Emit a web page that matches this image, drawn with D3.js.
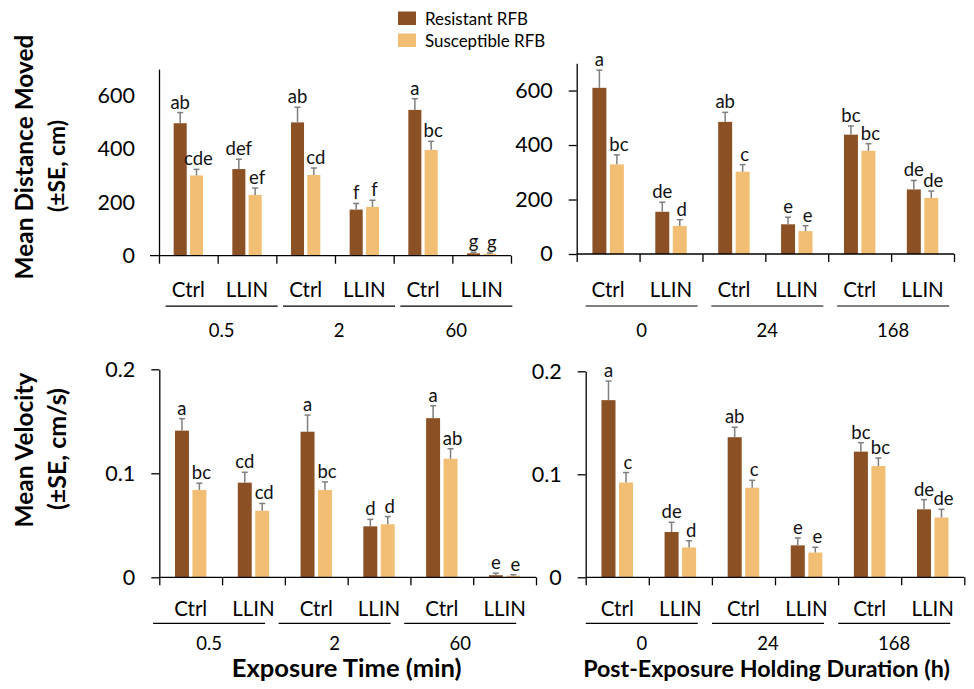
<!DOCTYPE html>
<html><head><meta charset="utf-8">
<script src="https://cdn.jsdelivr.net/npm/d3@7/dist/d3.min.js"></script>
<style>
body{margin:0;background:#fff;}
svg{display:block;font-family:Lato,"Open Sans",sans-serif;}
</style></head>
<body><svg id="c" width="974" height="689"></svg>
<script>
// ---------- data ----------
const seriesNames = ["Resistant RFB", "Susceptible RFB"];
const treatments = ["Ctrl", "LLIN"];
const exposureGroups = ["0.5", "2", "60"];
const holdingGroups = ["0", "24", "168"];
const distTicks = [0, 200, 400, 600];
const velTicks = [0, 0.1, 0.2];

// Mean distance moved, exposure time
const distExpRes = [497, 325, 500, 173, 547, 9];
const distExpResSE = [40, 37, 57, 23, 42, 4];
const distExpSus = [301, 228, 303, 183, 397, 7];
const distExpSusSE = [23, 26, 26, 25, 32, 3];
const distExpResLetters = ["ab", "def", "ab", "f", "a", "g"];
const distExpSusLetters = ["cde", "ef", "cd", "f", "bc", "g"];

// Mean distance moved, holding duration
const distHoldRes = [610, 155, 485, 109, 438, 237];
const distHoldResSE = [65, 35, 35, 26, 32, 33];
const distHoldSus = [329, 103, 302, 84, 379, 206];
const distHoldSusSE = [35, 23, 26, 20, 26, 25];
const distHoldResLetters = ["a", "de", "ab", "e", "bc", "de"];
const distHoldSusLetters = ["bc", "d", "c", "e", "bc", "de"];

// Mean velocity, exposure time
const velExpRes = [0.141, 0.091, 0.140, 0.049, 0.153, 0.002];
const velExpResSE = [0.0115, 0.010, 0.016, 0.0067, 0.012, 0.002];
const velExpSus = [0.084, 0.064, 0.084, 0.051, 0.114, 0.0015];
const velExpSusSE = [0.0065, 0.007, 0.0077, 0.0074, 0.0096, 0.001];
const velExpResLetters = ["a", "cd", "a", "d", "a", "e"];
const velExpSusLetters = ["bc", "cd", "bc", "d", "ab", "e"];

// Mean velocity, holding duration
const velHoldRes = [0.172, 0.044, 0.136, 0.031, 0.122, 0.066];
const velHoldResSE = [0.0185, 0.0094, 0.0097, 0.0072, 0.0087, 0.0094];
const velHoldSus = [0.092, 0.029, 0.087, 0.024, 0.108, 0.058];
const velHoldSusSE = [0.0097, 0.0065, 0.0072, 0.0052, 0.0078, 0.008];
const velHoldResLetters = ["a", "de", "ab", "e", "bc", "de"];
const velHoldSusLetters = ["c", "d", "c", "e", "bc", "de"];

const yTitles = [["Mean Distance Moved", "(±SE, cm)"], ["Mean Velocity", "(±SE, cm/s)"]];
const xTitles = ["Exposure Time (min)", "Post-Exposure Holding Duration (h)"];

// ---------- style ----------
const colors = ["#8B5024", "#F2BE73"];
const errColor = "#7f7f7f";

const panels = [
  {x0:159, x1:511, y0:255.7, yTop:69.1, max:700, ticks:distTicks, fmt:d3.format("d"), groups:exposureGroups,
   res:distExpRes, resSE:distExpResSE, sus:distExpSus, susSE:distExpSusSE, resL:distExpResLetters, susL:distExpSusLetters,
   tick:0, ext:9, shift:4, off:[41,50.5,81]},
  {x0:576.7, x1:954, y0:254, yTop:63.3, max:700, ticks:distTicks, fmt:d3.format("d"), groups:holdingGroups,
   res:distHoldRes, resSE:distHoldResSE, sus:distHoldSus, susSE:distHoldSusSE, resL:distHoldResLetters, susL:distHoldSusLetters,
   tick:8, ext:0, shift:2, off:[42.7,52,82.5]},
  {x0:159.3, x1:536, y0:577.3, yTop:369.3, max:0.2, ticks:velTicks, fmt:d => d===0?"0":d3.format(".1f")(d), groups:exposureGroups,
   res:velExpRes, resSE:velExpResSE, sus:velExpSus, susSE:velExpSusSE, resL:velExpResLetters, susL:velExpSusLetters,
   tick:8, ext:0, shift:-13, off:[38.7,46,72.7]},
  {x0:585.7, x1:964.3, y0:577.3, yTop:371.3, max:0.2, ticks:velTicks, fmt:d => d===0?"0":d3.format(".1f")(d), groups:holdingGroups,
   res:velHoldRes, resSE:velHoldResSE, sus:velHoldSus, susSE:velHoldSusSE, resL:velHoldResLetters, susL:velHoldSusLetters,
   tick:8, ext:0, shift:-7, off:[38.7,46,72.7]}
];

const svg = d3.select("#c");

// scale a text's font size so it spans the target width
function fit(sel, target) {
  const w = sel.node().getComputedTextLength();
  const fs = +sel.attr("font-size");
  if (w > 0) sel.attr("font-size", fs * target / w);
  return +sel.attr("font-size");
}

panels.forEach(p => {
  const cats = [];
  p.groups.forEach(g => treatments.forEach(t => cats.push(g + "|" + t)));
  const x = d3.scaleBand().domain(cats).range([p.x0, p.x1]).padding(0);
  const xs = d3.scaleBand().domain(seriesNames).range([0, x.bandwidth()]).paddingInner(0.2).paddingOuter(0.9);
  const y = d3.scaleLinear().domain([0, p.max]).range([p.y0, p.yTop]);
  const g = svg.append("g");

  const rows = [];
  cats.forEach((c, i) => {
    rows.push({c, s:seriesNames[0], v:p.res[i], se:p.resSE[i], l:p.resL[i], k:0});
    rows.push({c, s:seriesNames[1], v:p.sus[i], se:p.susSE[i], l:p.susL[i], k:1});
  });
  g.selectAll("rect.bar").data(rows).join("rect")
    .attr("x", d => x(d.c) + xs(d.s))
    .attr("width", xs.bandwidth())
    .attr("y", d => y(d.v))
    .attr("height", d => y(0) - y(d.v))
    .attr("fill", d => colors[d.k]);
  const cx = d => x(d.c) + xs(d.s) + xs.bandwidth()/2;
  g.selectAll("line.err").data(rows).join("line")
    .attr("x1", cx).attr("x2", cx)
    .attr("y1", d => y(d.v)).attr("y2", d => y(d.v + d.se))
    .attr("stroke", errColor).attr("stroke-width", 1.5);
  g.selectAll("line.cap").data(rows).join("line")
    .attr("x1", d => cx(d) - 3).attr("x2", d => cx(d) + 3)
    .attr("y1", d => y(d.v + d.se)).attr("y2", d => y(d.v + d.se))
    .attr("stroke", errColor).attr("stroke-width", 1.5);
  g.selectAll("text.let").data(rows).join("text")
    .attr("x", d => cx(d) + (d.k ? 2 : 0))
    .attr("y", d => y(d.v + d.se) - 4)
    .attr("text-anchor", "middle")
    .attr("font-size", 18.5).attr("fill", "#111")
    .text(d => d.l);

  const ya = g.append("g").attr("transform", `translate(${p.x0},0)`)
    .call(d3.axisLeft(y).tickValues(p.ticks).tickFormat(p.fmt).tickSize(p.tick).tickSizeOuter(0).tickPadding(24 - p.tick));
  ya.select(".domain").attr("stroke", "#000").attr("stroke-width", 1.3);
  ya.selectAll(".tick line").attr("stroke", "#000").attr("stroke-width", 1.3);
  ya.selectAll(".tick text").attr("font-size", 21.5).attr("fill", "#000").attr("font-family", "Lato");

  const xi = d3.scaleLinear().domain([0, cats.length]).range([p.x0, p.x1]);
  const xa = g.append("g").attr("transform", `translate(0,${p.y0})`)
    .call(d3.axisBottom(xi).tickValues(d3.range(cats.length + 1)).tickFormat("").tickSize(8).tickSizeOuter(0));
  xa.select(".domain").remove();
  xa.selectAll(".tick line").attr("stroke", "#000").attr("stroke-width", 1.3);
  g.append("line").attr("x1", p.x0 - p.ext).attr("x2", p.x1).attr("y1", p.y0).attr("y2", p.y0)
    .attr("stroke", "#000").attr("stroke-width", 1.3);

  g.selectAll("text.tr").data(cats).join("text")
    .attr("x", d => x(d) + x.bandwidth()/2)
    .attr("y", p.y0 + p.off[0])
    .attr("text-anchor", "middle").attr("font-size", 20.5).attr("fill", "#000")
    .text(d => d.split("|")[1]);
  const gw = x.bandwidth() * treatments.length;
  p.groups.forEach((grp, i) => {
    const gc = x(grp + "|" + treatments[0]) + gw/2 + p.shift;
    g.append("line").attr("x1", gc - 56).attr("x2", gc + 56)
      .attr("y1", p.y0 + p.off[1]).attr("y2", p.y0 + p.off[1])
      .attr("stroke", "#000").attr("stroke-width", 1.2);
    g.append("text").attr("x", gc).attr("y", p.y0 + p.off[2])
      .attr("text-anchor", "middle").attr("font-size", 18.5).attr("fill", "#000").text(grp);
  });
});

// y titles (target lengths along the axis)
const yTitleCenters = [[157, 166], [450, 449]];
const yTitleX = [24, 57];
const yTitleLen = [[245, 92], [155, 122]];
yTitles.forEach((pair, r) => {
  pair.forEach((txt, j) => {
    const t = svg.append("text").attr("text-anchor", "middle").attr("font-size", 22)
      .attr("font-weight", "bold").attr("fill", "#000").text(txt);
    const fs = fit(t, yTitleLen[r][j]);
    t.attr("transform", `translate(${yTitleX[j] + fs * 0.36},${yTitleCenters[r][j]}) rotate(-90)`);
  });
});
// x titles
const xTitlePos = [[346.7, 677], [766.5, 677]];
const xTitleLen = [230, 367];
xTitles.forEach((txt, i) => {
  const t = svg.append("text").attr("x", xTitlePos[i][0]).attr("y", xTitlePos[i][1]).attr("text-anchor", "middle")
    .attr("font-size", 22).attr("font-weight", "bold").attr("fill", "#000").text(txt);
  fit(t, xTitleLen[i]);
});

// legend
let legFs = 15;
seriesNames.forEach((s, i) => {
  svg.append("rect").attr("x", 398).attr("y", 11.5 + i * 22).attr("width", 18).attr("height", 13.5).attr("fill", colors[i]);
  const t = svg.append("text").attr("x", 425).attr("y", 24.5 + i * 22).attr("font-size", 15).attr("fill", "#000").text(s);
  if (i === 0) legFs = fit(t, 103); else t.attr("font-size", legFs);
});
</script></body></html>
